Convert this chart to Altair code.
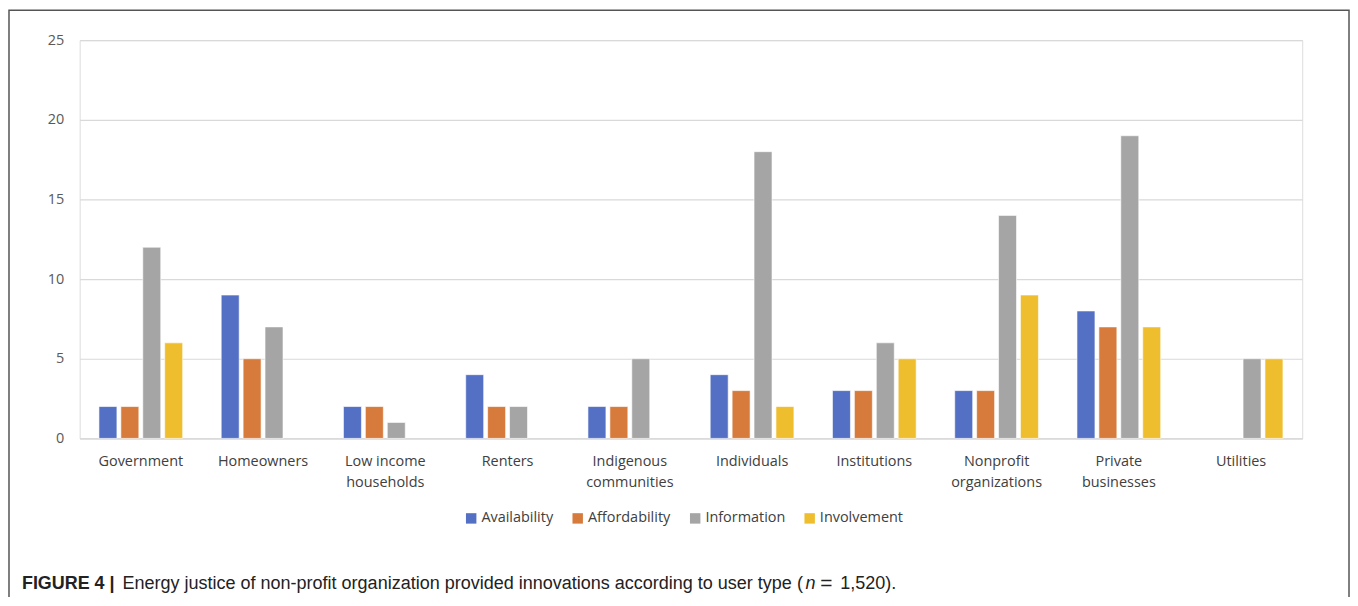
import altair as alt
import pandas as pd

categories = ["Government", "Homeowners", "Low income households", "Renters",
              "Indigenous communities", "Individuals", "Institutions",
              "Nonprofit organizations", "Private businesses", "Utilities"]
series = ["Availability", "Affordability", "Information", "Involvement"]
availability = [2, 9, 2, 4, 2, 4, 3, 3, 8, 0]
affordability = [2, 5, 2, 2, 2, 3, 3, 3, 7, 0]
information = [12, 7, 1, 2, 5, 18, 6, 14, 19, 5]
involvement = [6, 0, 0, 0, 0, 2, 5, 9, 7, 5]
colors = ["#5470C4", "#D77B3C", "#A5A5A5", "#EFBE2E"]
y_ticks = [0, 5, 10, 15, 20, 25]

rows = []
for name, vals in zip(series, [availability, affordability, information, involvement]):
    for c, v in zip(categories, vals):
        rows.append({"category": c, "series": name, "value": v})
df = pd.DataFrame(rows)

label_expr = ("datum.label == 'Low income households' ? ['Low income', 'households'] : "
              "split(datum.label, ' ')")

bars = alt.Chart(df).transform_filter("datum.value > 0").mark_bar(
    stroke="white", strokeWidth=0.6
).encode(
    x=alt.X("category:N", sort=categories, title=None,
            scale=alt.Scale(domain=categories, paddingInner=0.283, paddingOuter=0.1415),
            axis=alt.Axis(labelAngle=0, labelExpr=label_expr, ticks=False,
                          domain=True, domainColor="#D9D9D9", labelFontSize=14.5,
                          labelColor="#404040", labelFont="Open Sans",
                          labelPadding=16, labelLineHeight=21)),
    xOffset=alt.XOffset("series:N", sort=series,
                        scale=alt.Scale(domain=series, paddingInner=0.18, paddingOuter=0.09)),
    y=alt.Y("value:Q", title=None,
            scale=alt.Scale(domain=[0, 25]),
            axis=alt.Axis(values=y_ticks, ticks=False, domain=False,
                          gridColor="#D9D9D9", gridWidth=1.2,
                          labelFontSize=14.5, labelColor="#595959",
                          labelFont="Open Sans", labelPadding=16)),
    color=alt.Color("series:N", sort=series,
                    scale=alt.Scale(domain=series, range=colors),
                    legend=alt.Legend(title=None, orient="none", direction="horizontal",
                                      legendX=386, legendY=473, symbolType="square",
                                      symbolSize=110, symbolStrokeWidth=0,
                                      labelFontSize=14.5, labelFont="Open Sans",
                                      labelColor="#404040", columnPadding=17,
                                      symbolOffset=0, labelOffset=3)),
)

one = pd.DataFrame({"k": [0]})
frame = alt.Chart(one).mark_rect(fill=None, stroke="#555555", strokeWidth=1.5).encode(
    x=alt.value(-71), x2=alt.value(1275), y=alt.value(-30), y2=alt.value(640)
)

cap_style = dict(align="left", baseline="alphabetic",
                 font="Liberation Sans", color="#222222")

cap_bold = alt.Chart(one).mark_text(fontWeight="bold", fontSize=18, **cap_style).encode(
    x=alt.value(-58), y=alt.value(551), text=alt.value("FIGURE 4"))
cap_bar = alt.Chart(one).mark_text(fontWeight="bold", fontSize=18, **cap_style).encode(
    x=alt.value(30), y=alt.value(551), text=alt.value("|"))
cap_main = alt.Chart(one).mark_text(fontSize=18.1, **cap_style).encode(
    x=alt.value(43), y=alt.value(551),
    text=alt.value("Energy justice of non-profit organization provided innovations according to user type ("))
cap_n = alt.Chart(one).mark_text(fontStyle="italic", fontSize=18.1, **cap_style).encode(
    x=alt.value(729), y=alt.value(551), text=alt.value("n"))
cap_eq = alt.Chart(one).mark_text(fontSize=21, **cap_style).encode(
    x=alt.value(744), y=alt.value(552), text=alt.value("="))
cap_end = alt.Chart(one).mark_text(fontSize=18.1, **cap_style).encode(
    x=alt.value(764), y=alt.value(551), text=alt.value("1,520)."))

chart = alt.layer(bars, frame, cap_bold, cap_bar, cap_main, cap_n, cap_eq, cap_end).properties(
    width=1228, height=400,
    autosize=alt.AutoSizeParams(type="none"),
    padding={"left": 72, "top": 31, "right": 48, "bottom": 158},
).configure_view(stroke=None).configure(background="white")

chart.save("out.html", embed_options={"renderer": "svg", "actions": False})
